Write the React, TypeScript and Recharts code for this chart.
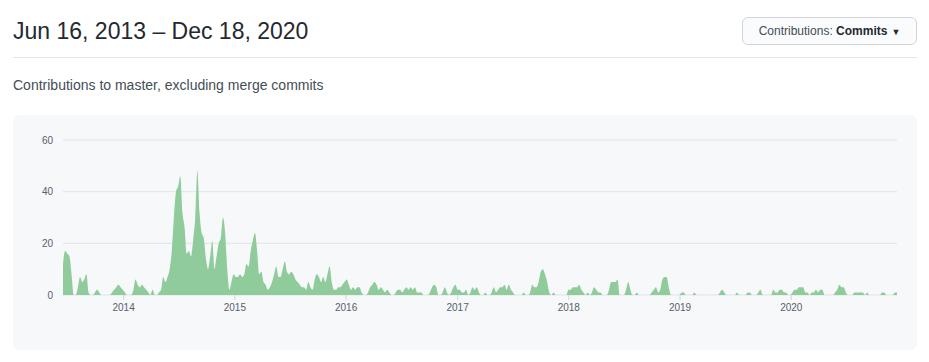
import { AreaChart, Area, XAxis, YAxis, CartesianGrid } from 'recharts'

// weekly commit counts, one per week starting Jun 16, 2013
const START = Date.UTC(2013, 5, 16)
const WEEK = 7 * 24 * 3600 * 1000

const YEARS = [2014, 2015, 2016, 2017, 2018, 2019, 2020]
const Y_TICKS = [0, 20, 40, 60]

const COMMITS = [
  12, 17, 16, 15, 8, 0, 0, 3, 7, 5,
  6, 8, 1, 0, 0, 1, 2, 1, 0, 0,
  0, 0, 0, 1, 2, 3, 4, 3, 2, 1,
  0, 0, 0, 2, 6, 4, 3, 4, 3, 2,
  1, 0, 2, 0, 0, 1, 2, 7, 5, 7,
  10, 17, 30, 40, 42, 46, 32, 26, 16, 17,
  15, 21, 30, 48, 32, 24, 22, 14, 10, 15,
  21, 10, 15, 20, 22, 30, 24, 10, 2, 5,
  8, 7, 7, 8, 7, 8, 12, 11, 17, 21,
  24, 17, 8, 9, 5, 4, 2, 3, 5, 8,
  11, 7, 7, 10, 13, 9, 8, 9, 8, 6,
  5, 4, 3, 3, 2, 5, 3, 2, 6, 8,
  7, 5, 7, 5, 8, 11, 5, 2, 2, 3,
  3, 4, 5, 6, 4, 2, 3, 2, 3, 3,
  1, 0, 0, 1, 3, 4, 5, 4, 2, 3,
  2, 1, 2, 1, 0, 0, 1, 2, 2, 1,
  2, 3, 2, 3, 2, 3, 1, 1, 1, 0,
  0, 0, 1, 3, 4, 3, 0, 0, 1, 3,
  1, 0, 1, 3, 4, 2, 2, 1, 1, 2,
  0, 1, 3, 2, 3, 1, 0, 0, 1, 0,
  0, 1, 3, 1, 2, 3, 3, 4, 2, 4,
  2, 1, 0, 0, 0, 0, 1, 0, 0, 1,
  4, 3, 3, 5, 9, 10, 8, 5, 1, 0,
  1, 0, 0, 0, 0, 0, 0, 2, 2, 3,
  3, 3, 4, 2, 1, 0, 1, 0, 1, 3,
  2, 1, 1, 0, 0, 0, 2, 5, 5, 5,
  6, 0, 0, 0, 2, 5, 2, 0, 0, 1,
  0, 0, 0, 0, 0, 0, 1, 2, 3, 1,
  2, 6, 7, 7, 3, 0, 0, 0, 0, 0,
  1, 1, 0, 0, 0, 0, 1, 0, 0, 0,
  0, 0, 0, 0, 0, 0, 0, 0, 1, 2,
  1, 0, 0, 0, 0, 0, 1, 0, 0, 0,
  0, 1, 1, 0, 0, 0, 1, 2, 0, 0,
  0, 0, 0, 2, 1, 1, 2, 2, 1, 1,
  0, 0, 1, 2, 2, 3, 3, 3, 1, 1,
  0, 1, 1, 2, 1, 2, 2, 0, 0, 0,
  0, 0, 1, 2, 4, 3, 3, 1, 0, 0,
  0, 1, 1, 1, 1, 1, 0, 1, 0, 0,
  0, 0, 0, 0, 1, 1, 0, 0, 0, 0,
  1, 1,
]

const data = COMMITS.map((c, i) => ({ t: START + i * WEEK, commits: c }))
const yearTicks = YEARS.map(y => Date.UTC(y, 0, 1))

const font = '-apple-system, "Liberation Sans", Arial, sans-serif'
const tick = { fontSize: 10, fill: '#586069', fontFamily: font }

export default function App() {
  return (
    <div style={{ position: 'absolute', left: 0, top: 0, width: 929, height: 362, background: '#fff', fontFamily: font }}>
      <div style={{ position: 'absolute', left: 13, top: 16, fontSize: 23, color: '#24292e', lineHeight: '30px' }}>
        Jun 16, 2013 – Dec 18, 2020
      </div>
      <div style={{
        position: 'absolute', left: 742, top: 17, width: 173, height: 26, border: '1px solid #d1d5da',
        borderRadius: 6, background: '#fafbfc', fontSize: 12, lineHeight: '26px', color: '#24292e',
        boxSizing: 'content-box', textAlign: 'center',
      }}>
        <span style={{ color: '#444d56' }}>Contributions: </span>
        <b>Commits</b>
        <span style={{ fontSize: 9, marginLeft: 4 }}>▼</span>
      </div>
      <div style={{ position: 'absolute', left: 13, top: 57, width: 904, height: 1, background: '#e1e4e8' }} />
      <div style={{ position: 'absolute', left: 13, top: 75, fontSize: 14, color: '#444d56', lineHeight: '20px' }}>
        Contributions to master, excluding merge commits
      </div>
      <div style={{ position: 'absolute', left: 13, top: 115, width: 904, height: 235, background: '#f6f8fa', borderRadius: 6 }}>
        <AreaChart width={904} height={235} data={data} margin={{ top: 25, right: 20, bottom: 25, left: 0 }}>
          <CartesianGrid vertical={false} stroke="#e1e4e8" />
          <XAxis
            dataKey="t"
            type="number"
            scale="time"
            domain={['dataMin', 'dataMax']}
            ticks={yearTicks}
            tickFormatter={v => String(new Date(v).getUTCFullYear())}
            tick={tick}
            tickSize={5}
            tickMargin={4}
            tickLine={{ stroke: '#d1d5da' }}
            axisLine={false}
            height={30}
          />
          <YAxis
            domain={[0, 60]}
            ticks={Y_TICKS}
            tick={tick}
            tickSize={0}
            tickMargin={10}
            axisLine={false}
            tickLine={false}
            width={50}
          />
          <Area
            type="monotone"
            dataKey="commits"
            stroke="none"
            fill="#8fcb9b"
            fillOpacity={1}
            isAnimationActive={false}
          />
        </AreaChart>
      </div>
    </div>
  )
}
